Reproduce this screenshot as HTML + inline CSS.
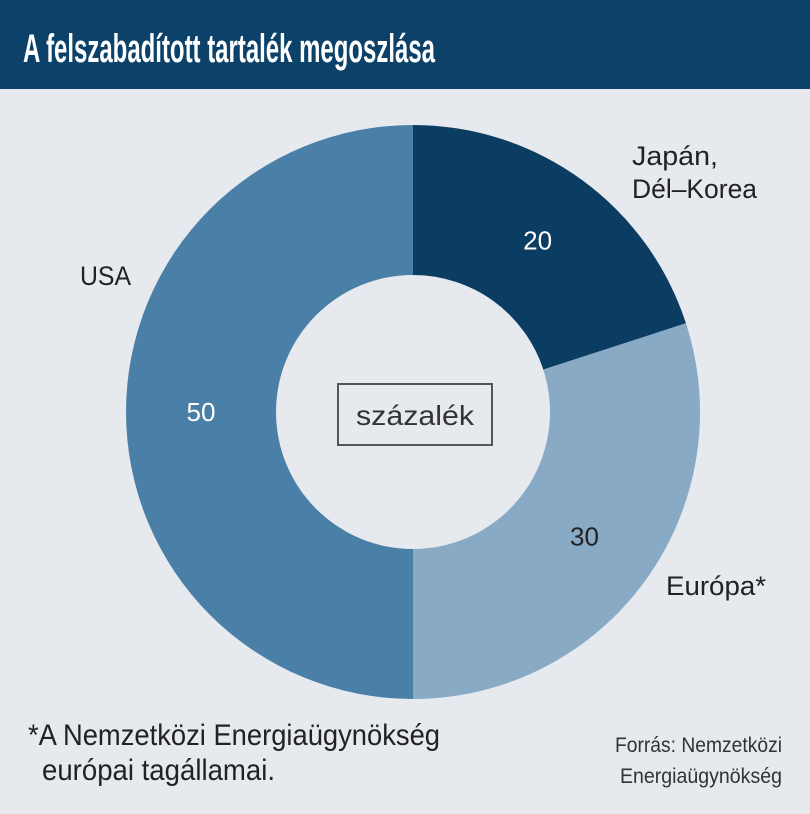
<!DOCTYPE html>
<html><head><meta charset="utf-8"><style>
html,body{margin:0;padding:0;background:#e6e9ed;}
svg{display:block;font-family:"Liberation Sans",sans-serif;}
</style></head><body>
<svg width="810" height="814" viewBox="0 0 810 814">
<rect x="0" y="0" width="810" height="814" fill="#e6e9ed"/>
<rect x="0" y="0" width="810" height="89" fill="#0c426a"/>
<text x="23" y="62" font-size="40" font-weight="bold" fill="#fff" textLength="412" lengthAdjust="spacingAndGlyphs">A felszabadított tartalék megoszlása</text>
<g id="slices"></g>
<rect x="338" y="384" width="154" height="61" fill="none" stroke="#555" stroke-width="2"/>
<text x="415" y="425" font-size="28" fill="#333" text-anchor="middle" textLength="118" lengthAdjust="spacingAndGlyphs">százalék</text>
<text x="632" y="165" font-size="27" fill="#222" textLength="86" lengthAdjust="spacingAndGlyphs">Japán,</text>
<text x="632" y="198" font-size="27" fill="#222" textLength="125" lengthAdjust="spacingAndGlyphs">Dél–Korea</text>
<text x="80" y="285" font-size="27" fill="#222" textLength="51" lengthAdjust="spacingAndGlyphs">USA</text>
<text x="666" y="595" font-size="27" fill="#222" textLength="100" lengthAdjust="spacingAndGlyphs">Európa*</text>
<text x="28" y="745" font-size="30" fill="#222" textLength="412" lengthAdjust="spacingAndGlyphs">*A Nemzetközi Energiaügynökség</text>
<text x="42" y="780" font-size="30" fill="#222" textLength="233" lengthAdjust="spacingAndGlyphs">európai tagállamai.</text>
<text x="615" y="752" font-size="21" fill="#333" textLength="167" lengthAdjust="spacingAndGlyphs">Forrás: Nemzetközi</text>
<text x="620" y="783" font-size="21" fill="#333" textLength="162" lengthAdjust="spacingAndGlyphs">Energiaügynökség</text>
</svg>
<script>
const categories = ["Japán, Dél-Korea", "Európa", "USA"];
const values = [20, 30, 50];
const valueLabels = ["20", "30", "50"];
const colors = ["#0b3d62", "#88aac5", "#4a80a7"];
const cx = 413, cy = 412, R = 287, r = 137;
const g = document.getElementById('slices');
const NS = 'http://www.w3.org/2000/svg';
const total = values.reduce((a, b) => a + b, 0);
function pt(rad, a) { return [cx + rad * Math.sin(a), cy - rad * Math.cos(a)]; }
let acc = 0;
values.forEach((v, i) => {
  const a0 = acc / total * 2 * Math.PI;
  acc += v;
  const a1 = acc / total * 2 * Math.PI;
  const large = (a1 - a0) > Math.PI ? 1 : 0;
  const [x0, y0] = pt(R, a0), [x1, y1] = pt(R, a1), [x2, y2] = pt(r, a1), [x3, y3] = pt(r, a0);
  const p = document.createElementNS(NS, 'path');
  p.setAttribute('d', `M${x0},${y0} A${R},${R} 0 ${large} 1 ${x1},${y1} L${x2},${y2} A${r},${r} 0 ${large} 0 ${x3},${y3} Z`);
  p.setAttribute('fill', colors[i]);
  
  
  g.appendChild(p);
  const am = (a0 + a1) / 2;
  const [tx, ty] = pt((R + r) / 2, am);
  const t = document.createElementNS(NS, 'text');
  t.setAttribute('x', tx);
  t.setAttribute('y', ty + 9);
  t.setAttribute('text-anchor', 'middle');
  t.setAttribute('font-size', '26');
  t.setAttribute('fill', i === 1 ? '#222' : '#fff');
  t.textContent = valueLabels[i];
  
  
  g.appendChild(t);
});
</script>
</body></html>
